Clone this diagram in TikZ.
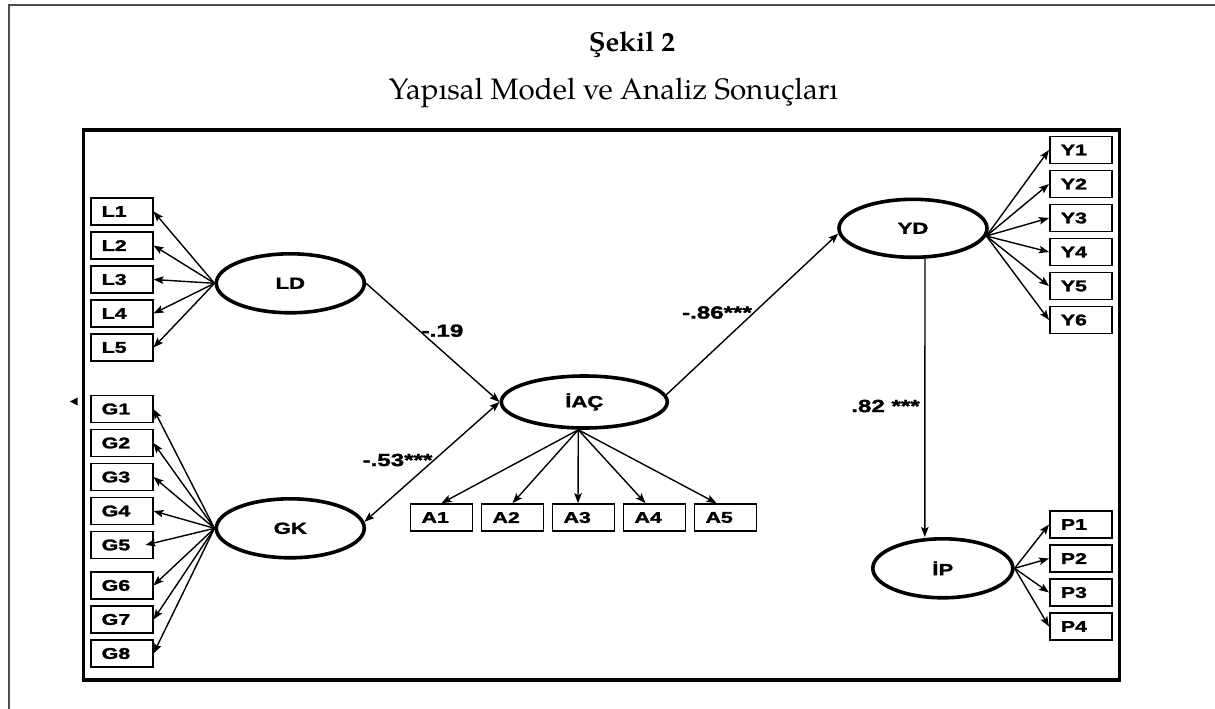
\documentclass[tikz,border=0pt]{standalone}
\usepackage{fontspec}
\usetikzlibrary{shapes.geometric,arrows.meta}
\newfontfamily\semfont[FakeStretch=1.38,FakeBold=1.8]{Liberation Sans}
\newfontfamily\titlefont{TeX Gyre Pagella}
\tikzset{
  obs/.style={draw, line width=1.6pt, rectangle, minimum width=62pt, minimum height=27pt,
    inner xsep=11pt, inner ysep=0pt, text width=40pt, align=left,
    font=\semfont\bfseries\fontsize{15.5}{15.5}\selectfont},
  lat/.style={ellipse, draw, line width=3.6pt, minimum width=148pt, minimum height=59pt,
    inner sep=0pt, font=\semfont\bfseries\fontsize{16}{16}\selectfont},
  load/.style={line width=1.4pt, ->},
  twoway/.style={line width=1.4pt, <->},
  coef/.style={font=\semfont\bfseries\fontsize{17.5}{17.5}\selectfont, inner sep=0pt},
}
\begin{document}
\begin{tikzpicture}[x=1pt, y=-1pt, >={Stealth[length=10pt,width=7.5pt,inset=2pt]}]
\useasboundingbox (0,0) rectangle (1215,709);
\fill[white] (0,0) rectangle (1215,709);

% page frame and figure frame
\draw[black!70, line width=1.5pt] (1215,5) -- (9,5) -- (9,709);
\draw[line width=3.6pt] (83.4,129.8) rectangle (1119.3,680.2);
\fill (70,401.5) -- (77.5,397.5) -- (77.5,405.5) -- cycle;

% caption
\node[font=\titlefont\bfseries\fontsize{27.5}{27.5}\selectfont, anchor=base] (cap1) at (632,51.5) {Şekil 2};
\node[font=\titlefont\fontsize{29.6}{29.6}\selectfont, anchor=base] (cap2) at (613.5,99.5) {Yapısal Model ve Analiz Sonuçları};

% latent variables
\node[lat] (LD) at (290.3,283.3) {LD};
\node[lat] (GK) at (290.3,528.3) {GK};
\node[lat, minimum width=166pt, minimum height=52pt] (IAC) at (584.3,402) {İAÇ};
\node[lat, minimum height=58pt] (YD) at (913,228.3) {YD};
\node[lat, minimum width=140pt] (IP) at (942.8,568.3) {İP};

% indicators
\foreach \i/\y in {1/211.5,2/245.5,3/279.5,4/313.5,5/347.5}
  \node[obs] (L\i) at (121.7,\y) {L\i};
\foreach \i/\y in {1/409,2/443,3/477,4/511,5/545,6/585.5,7/619.5,8/653.5}
  \node[obs] (G\i) at (121.7,\y) {G\i};
\foreach \i/\x in {1/441.5,2/512.5,3/583.5,4/654.5,5/725.5}
  \node[obs] (A\i) at (\x,517.5) {A\i};
\foreach \i/\y in {1/150,2/184,3/218,4/252,5/286,6/320}
  \node[obs] (Y\i) at (1080.8,\y) {Y\i};
\foreach \i/\y in {1/524.5,2/558.5,3/592.5,4/626.5}
  \node[obs] (P\i) at (1080.8,\y) {P\i};

% measurement paths
\foreach \i in {1,...,5}
  \draw[load] (LD.west) -- (L\i.east);
\foreach \i in {1,2,3,4,6,7,8}
  \draw[load] (GK.west) -- (G\i.east);
\draw[load] (GK.west) -- ([xshift=-8pt]G5.east);
\coordinate (Aroot) at ([xshift=-6pt]IAC.south);
\draw[load] (Aroot) -- (A1.north);
\draw[load] (Aroot) -- (A2.north);
\draw[load] (Aroot) -- ([xshift=-5.5pt]A3.north);
\draw[load] (Aroot) -- ([xshift=-9pt]A4.north);
\draw[load] (Aroot) -- ([xshift=-9pt]A5.north);
\foreach \i in {1,...,6}
  \draw[load] (YD.-6) -- (Y\i.west);
\foreach \i in {1,...,4}
  \draw[load] (IP.east) -- (P\i.west);

% structural paths
\draw[load] (LD.east) -- (IAC.west);
\draw[twoway] (GK.5) -- (IAC.west);
\draw[load] (IAC.5) -- (YD.184);
\draw[load] ([xshift=12pt]YD.south) -- ([xshift=-18pt]IP.north);

% path coefficients
\node[coef] (c1) at (442.5,330.7) {-.19};
\node[coef] (c2) at (397.5,460) {-.53***};
\node[coef] (c3) at (717,312.5) {-.86***};
\node[coef] (c4) at (885.5,406) {.82 ***};
\end{tikzpicture}
\end{document}
